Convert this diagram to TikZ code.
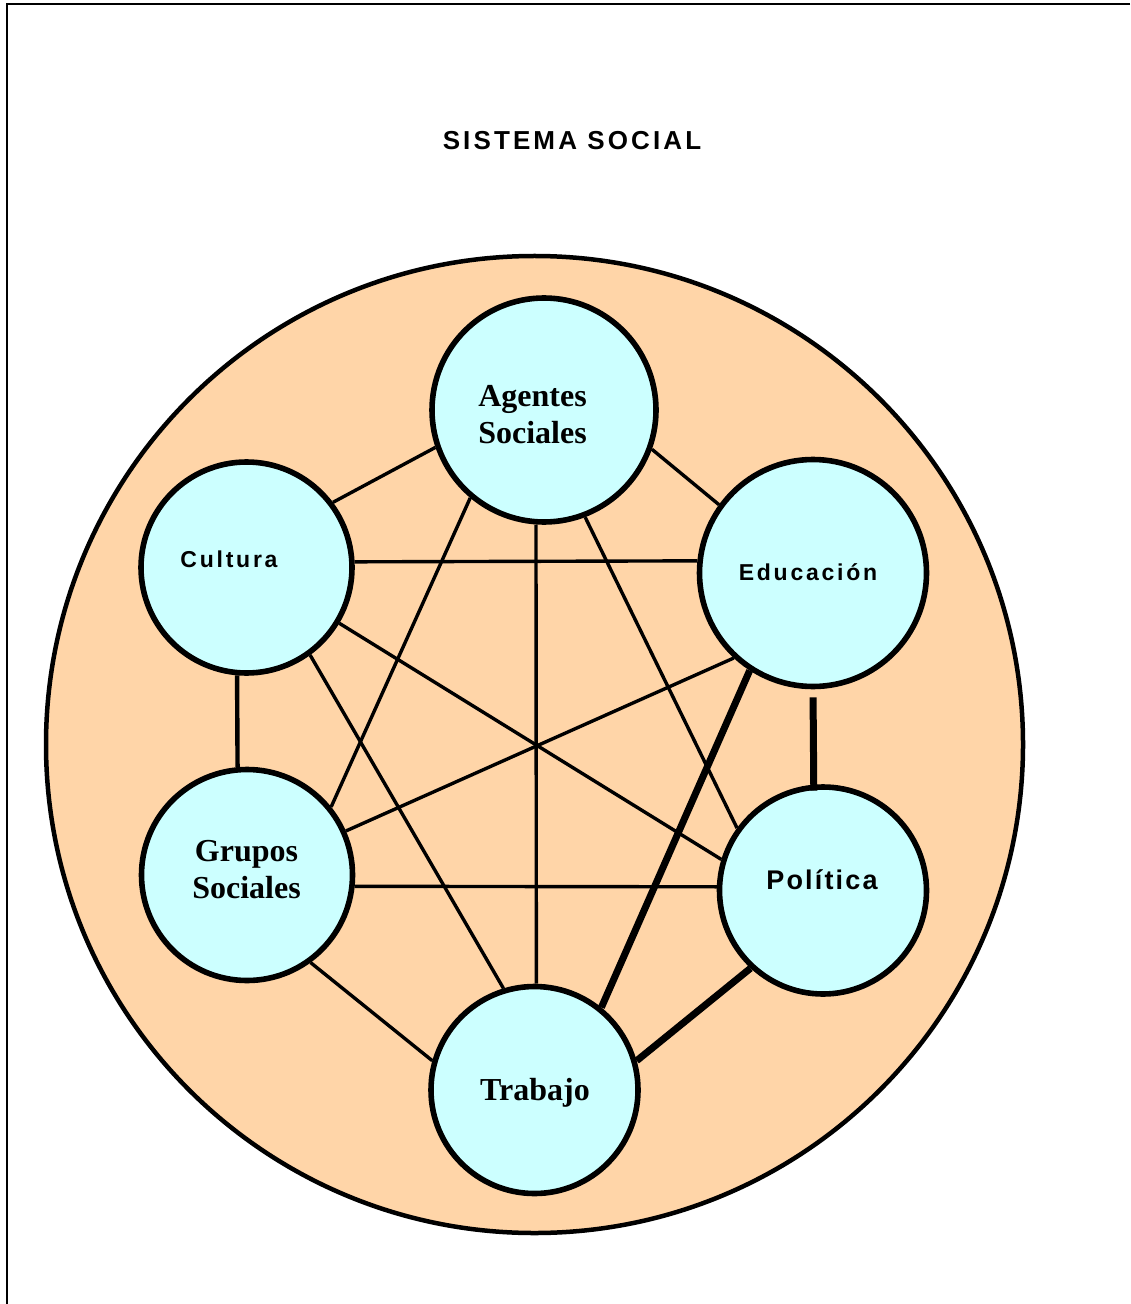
\documentclass[tikz,border=0pt]{standalone}
\usepackage{fontspec}
\setmainfont{Liberation Serif}
\setsansfont{Liberation Sans}
\usepackage{tikz}
\definecolor{Peach}{HTML}{FFD5A8}
\definecolor{PaleCyan}{HTML}{CCFFFF}

\begin{document}
\begin{tikzpicture}[x=0.5pt, y=-0.5pt, line width=1.7pt, system/.style={circle, draw, line width=2.25pt, fill=Peach, inner sep=0pt}, area/.style={circle, draw, line width=2.8pt, fill=PaleCyan, inner sep=0pt}, sans label/.style={font=\sffamily\bfseries\fontsize{11.5}{13}\selectfont\addfontfeature{LetterSpace=12}, anchor=base, inner sep=0pt}, serif label/.style={font=\bfseries\fontsize{16}{18.5}\selectfont, align=center, inner sep=0pt}, strong/.style={line width=3.5pt}]

\useasboundingbox (0,0) rectangle (1130,1304);
\draw[line width=1.2pt] (1130,4) -- (7,4) -- (7,1304);

\node[sans label, font=\sffamily\bfseries\fontsize{13}{15}\selectfont\addfontfeature{LetterSpace=12}] (T0) at (572,149.3) {SISTEMA SOCIAL};

\node[system, minimum size=488.5pt] (SYS) at (534.5,744.5) {};

\node[area, minimum size=112pt] (AS) at (544,410) {};
\node[area, minimum size=105.5pt] (CU) at (246.5,567.5) {};
\node[area, minimum size=113.5pt] (ED) at (813,573) {};
\node[area, minimum size=105.5pt] (GS) at (247,875) {};
\node[area, minimum size=103.5pt] (PO) at (823,890.5) {};
\node[area, minimum size=103.5pt] (TR) at (534.5,1090) {};

\foreach \from/\to in {CU.37/AS.199, AS.340/ED.144, CU.3/ED.174.5, AS.230/GS.39, AS.266/TR.89, AS.291/PO.144, CU.329/PO.163, CU.306/TR.107, ED.227/GS.24, GS.354/PO.178, GS.306/TR.164}
    \draw (\from) -- (\to);
\draw[line width=2.2pt] (CU.265) -- (GS.95);
\foreach \from/\to in {ED.237/TR.51, PO.227/TR.16}
    \draw[strong] (\from) -- (\to);
\draw[strong, shorten <=4pt, shorten >=-3pt] (ED.270) -- (PO.95);

\node[serif label] (AST) at (532.5,415) {Agentes\\Sociales};
\node[sans label] (CUT) at (229,567.3) {Cultura};
\node[sans label] (EDT) at (808,580.7) {Educación};
\node[serif label] (GST) at (246.5,870) {Grupos\\Sociales};
\node[sans label, font=\sffamily\bfseries\fontsize{13.5}{15}\selectfont\addfontfeature{LetterSpace=8}] (POT) at (822,889.3) {Política};
\node[serif label, anchor=base] (TRT) at (535,1100.7) {Trabajo};
\end{tikzpicture}
\end{document}
